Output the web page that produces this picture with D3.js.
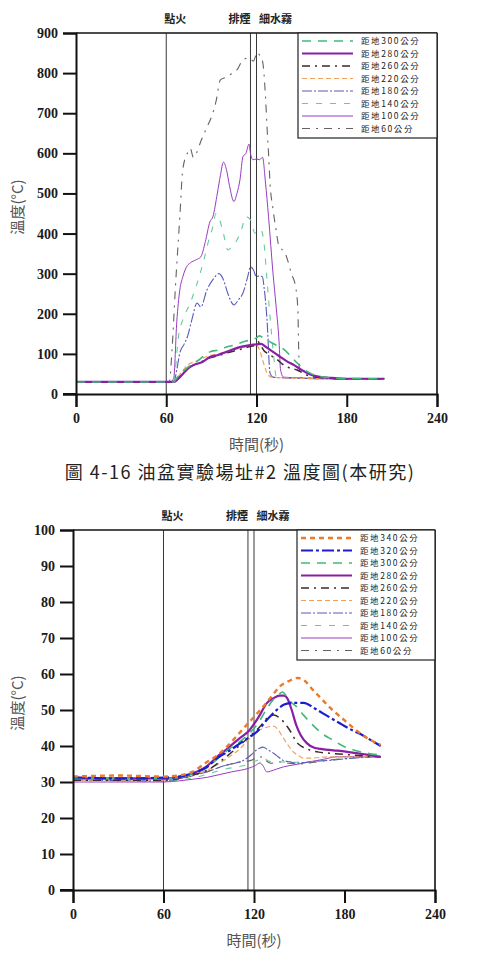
<!DOCTYPE html>
<html>
<head>
<meta charset="utf-8">
<script src="https://cdn.jsdelivr.net/npm/d3@7"></script>
<style>
  body { margin: 0; background: #fff; }
  svg { display: block; }
  .cjk { font-family: "Noto Sans CJK TC", "Noto Sans CJK SC", sans-serif; }
</style>
</head>
<body>
<div id="vis"></div>
<script>
// top chart: [time (s), temperature (°C)] per sensor height
const top300 = [[0,30],[65,30],[67,40],[70,52],[74,66],[80,80],[89,105],[95,110],[100,117],[105,122],[109,127],[113,132],[117,135],[120,140],[122,145],[125,138],[129,130],[133,122],[138,112],[145,85],[152,60],[158,48],[165,42],[175,39],[205,38]];
const top280 = [[0,30],[65,30],[68,38],[71,50],[74,62],[78,72],[84,80],[89,92],[95,98],[100,105],[105,112],[109,117],[113,120],[116,122],[120,124],[123,125],[126,118],[129,110],[133,100],[136,92],[140,82],[145,72],[150,60],[154,52],[158,46],[163,42],[170,40],[180,38],[205,38]];
const top260 = [[0,30],[65,30],[68,38],[72,55],[76,68],[82,78],[89,90],[95,96],[100,102],[106,108],[110,112],[115,118],[119,122],[121,130],[123,120],[125,108],[127,102],[130,95],[134,85],[137,75],[140,68],[144,63],[147,60],[151,52],[155,45],[160,42],[165,40],[180,38],[205,38]];
const top220 = [[0,30],[64,30],[67,40],[71,58],[74,72],[80,82],[89,96],[95,100],[100,106],[106,112],[112,117],[116,120],[120,122],[122,110],[124,85],[126,62],[127,52],[130,42],[140,40],[170,38],[205,38]];
const top180 = [[0,30],[65,30],[67,60],[69,102],[72,125],[74,142],[77,185],[80.5,227],[83,217],[87,259],[91,285],[95,300],[98,285],[101,250],[105,222],[108,235],[111,252],[114,290],[116,317],[118,309],[120,292],[122,295],[124,292],[125,267],[127,185],[129,52],[131,42],[140,40],[170,38],[205,38]];
const top140 = [[0,30],[64,30],[66,60],[68,140],[71,185],[76,227],[80,270],[85,334],[88,380],[91,417],[93,450],[95,440],[98,400],[101,359],[104,370],[107,384],[110,410],[113,442],[116,434],[119,401],[121,410],[123,409],[125,376],[127,284],[129,192],[131.5,92],[133,45],[140,40],[170,38],[205,38]];
const top100 = [[0,30],[63,30],[65,40],[67,180],[69,259],[71,292],[74,320],[76,327],[80,335],[83,342],[86,380],[89,429],[91,442],[94,501],[96,545],[98,578],[100,560],[102,520],[105,480],[107,500],[109,534],[111,592],[113,600],[115,623],[116,600],[117.5,584],[120,586],[122,584],[124,590],[126,526],[128,442],[131,300],[133,220],[135,130],[136,60],[138,42],[150,40],[170,38],[205,38]];
const top60 = [[0,30],[62,30],[64,120],[66,260],[69,440],[71,560],[74,600],[76,612],[78,590],[80,600],[83,630],[87,665],[90,690],[93,728],[96,783],[100,790],[104,800],[107,808],[111,833],[115,838],[118,830],[120.5,852],[122,845],[124,830],[126,740],[127,665],[128,600],[129,526],[131,460],[133,409],[135,367],[137,360],[139,351],[141,330],[143,302],[146,267],[147.5,210],[148,120],[149,42],[155,40],[170,38],[205,38]];

// bottom chart
const bot340 = [[0,31.5],[30,31.8],[60,31.5],[70,31.8],[79,32.8],[89,35.6],[96,37.5],[102,39.8],[108,42.5],[115,45.8],[122,49],[128,51.9],[133,54.5],[137,56.5],[143,58],[149,58.9],[154,58],[159,55.6],[165,53],[172,50],[179,47.5],[186,45],[192,43],[197,41.7],[204,40.3]];
const bot320 = [[0,31.3],[30,31],[60,31.2],[70,31.5],[80,32.5],[89,34.2],[95.5,36.6],[103,38.5],[111,40.8],[117,42.5],[122,44],[128,47],[135,50],[140,51.5],[144,51.9],[150,52],[153,52],[160,50.5],[166,49],[172,47.5],[179,45.8],[186,44.2],[192,43],[198,41.5],[204,40]];
const bot300 = [[0,31],[60,31],[70,31.2],[80,32.5],[89,34],[96,36.5],[103,39],[110,41],[117,43.5],[123,46.5],[128,50],[133,53],[137,54.5],[139,55],[142,53.5],[145,52],[148,51],[153,48.5],[159,45.8],[165,43.5],[172,41.7],[179,40],[186,38.9],[195,38],[204,37.5]];
const bot280 = [[0,31],[60,31],[70,31.3],[80,32.5],[89,34.5],[95.5,37],[103,39.5],[110,42],[117,44.4],[123,48],[128.5,51.9],[133,53.3],[137,54],[140,54],[142,53.3],[145,50],[148,45.8],[151,43],[155,40.8],[160,39.5],[164,39.2],[170,38.9],[175,38.7],[188,38],[204,37]];
const bot260 = [[0,30.5],[60,30.5],[70,31],[80,32],[90,33.5],[100,36.5],[110,40],[118,43],[124,45.4],[128,47.5],[133,48.6],[137,47.8],[142,45.4],[145,43.5],[148,41.2],[152,39.8],[157,38.9],[163,38.3],[170,38],[185,37.5],[204,37]];
const bot220 = [[0,30.5],[60,30.5],[70,31],[80,32],[90,33.5],[100,36],[110,39],[117,42],[122,44],[127,45],[133,45.5],[136,44.5],[139,42.5],[143,40],[146,38.4],[150,37.2],[153,36.6],[160,36.7],[170,37],[185,37],[204,37]];
const bot180 = [[0,30.5],[60,30.3],[70,30.8],[80,31.8],[90,33],[100,34.5],[108,35.3],[113,36],[118,37.5],[122,39],[126,39.7],[129,39],[133,38],[136,37],[139.5,36],[144,35.6],[148,35.2],[155,35.5],[162,35.8],[170,36],[185,36.6],[204,37]];
const bot140 = [[0,30.2],[60,30.2],[70,30.5],[80,31.2],[90,32.3],[100,33.5],[110,34.3],[117,35],[122,36],[126,36.6],[129,36],[131,35.6],[136,35.6],[142,35.5],[148,35.5],[160,35.8],[175,36.3],[190,36.8],[204,37]];
const bot100 = [[0,30],[60,30],[70,30.3],[80,30.8],[89,31.3],[95.5,31.9],[105,32.8],[117,33.9],[121,34.6],[124,35.3],[126,34.5],[128.5,32.8],[131,33],[135,33.6],[139.5,34.2],[147,34.8],[157,35.6],[166,36.3],[175,37],[190,37],[204,37]];
const bot60 = [[0,30.8],[60,30.7],[70,31],[80,31.8],[90,33],[100,34.5],[110,35.5],[118,36],[122,36.8],[126,37],[128,36],[131,35.2],[134,35.4],[137,35.6],[143,35.2],[150,35],[160,35.5],[172,36.2],[188,36.8],[204,37]];

const xTicks = [0, 60, 120, 180, 240];
const topYTicks = [0, 100, 200, 300, 400, 500, 600, 700, 800, 900];
const botYTicks = [0, 10, 20, 30, 40, 50, 60, 70, 80, 90, 100];

// event markers (s)
const events = [
  { t: 60, label: "點火", dx: 9 },
  { t: 116, label: "排煙", dx: -11 },
  { t: 120, label: "細水霧", dx: 19 }
];

// line styles per sensor height
const STYLE = {
  340: { color: "#ec7a2a", width: 2.4, dash: "5,4" },
  320: { color: "#1c1cd0", width: 2.2, dash: "12,3,3,3" },
  300: { color: "#3fba7c", width: 1.6, dash: "9,7" },
  280: { color: "#8a1fa6", width: 2.2, dash: null },
  260: { color: "#3e2a2a", width: 1.5, dash: "8,5,2,5" },
  220: { color: "#f2a060", width: 1.2, dash: "5,3" },
  180: { color: "#5a5ab8", width: 1.1, dash: "10,2,2,2" },
  140: { color: "#66cc99", width: 1.1, dash: "6,8" },
  100: { color: "#9a3cc0", width: 1.0, dash: null },
  60:  { color: "#6a6060", width: 1.1, dash: "8,6,2,6" }
};

const topSeries = [
  { h: 300, data: top300 }, { h: 280, data: top280 }, { h: 260, data: top260 },
  { h: 220, data: top220 }, { h: 180, data: top180 }, { h: 140, data: top140 },
  { h: 100, data: top100 }, { h: 60, data: top60 }
];
const botSeries = [
  { h: 340, data: bot340 }, { h: 320, data: bot320 }, { h: 300, data: bot300 },
  { h: 280, data: bot280 }, { h: 260, data: bot260 }, { h: 220, data: bot220 },
  { h: 180, data: bot180 }, { h: 140, data: bot140 }, { h: 100, data: bot100 },
  { h: 60, data: bot60 }
];

const W = 481, H = 966;
const svg = d3.select("#vis").append("svg")
  .attr("width", W).attr("height", H);

function drawChart(cfg) {
  const x = d3.scaleLinear().domain([0, 240]).range([cfg.left, cfg.right]);
  const y = d3.scaleLinear().domain(cfg.yDomain).range([cfg.bottom, cfg.top]);
  const g = svg.append("g");

  // frame (top + right)
  g.append("line").attr("x1", cfg.left).attr("x2", cfg.right)
    .attr("y1", cfg.top).attr("y2", cfg.top)
    .attr("stroke", "#111").attr("stroke-width", 1.6);
  g.append("line").attr("x1", cfg.right).attr("x2", cfg.right)
    .attr("y1", cfg.top).attr("y2", cfg.bottom)
    .attr("stroke", "#111").attr("stroke-width", 1.6);

  // event lines
  g.selectAll(".event")
    .data(events)
    .join("line")
    .attr("x1", d => x(d.t)).attr("x2", d => x(d.t))
    .attr("y1", cfg.top).attr("y2", cfg.bottom)
    .attr("stroke", "#222").attr("stroke-width", 0.9);

  g.selectAll(".event-label")
    .data(events)
    .join("text")
    .attr("class", "cjk")
    .attr("x", d => x(d.t) + d.dx)
    .attr("y", cfg.top - 10)
    .attr("text-anchor", "middle")
    .style("font-size", "11px")
    .style("font-weight", "bold")
    .attr("fill", "#222")
    .text(d => d.label);

  // series
  const line = d3.line()
    .x(d => x(d[0]))
    .y(d => y(d[1]))
    .curve(d3.curveMonotoneX);

  g.append("g")
    .selectAll("path")
    .data(cfg.series.slice().reverse())
    .join("path")
    .attr("fill", "none")
    .attr("stroke", d => STYLE[d.h].color)
    .attr("stroke-width", d => STYLE[d.h].width)
    .attr("stroke-dasharray", d => STYLE[d.h].dash)
    .attr("d", d => line(d.data));

  // axes
  const yAxis = d3.axisLeft(y).tickValues(cfg.yTicks).tickSize(13).tickPadding(5);
  const gy = g.append("g")
    .attr("transform", `translate(${cfg.left},0)`)
    .call(yAxis);
  const xAxis = d3.axisBottom(x).tickValues(xTicks).tickSize(13).tickPadding(6);
  const gx = g.append("g")
    .attr("transform", `translate(0,${cfg.bottom})`)
    .call(xAxis);
  [gx, gy].forEach(a => {
    a.attr("font-family", null).attr("font-size", null);
    a.select(".domain").attr("stroke", "#111").attr("stroke-width", 2);
    a.selectAll(".tick line").attr("stroke", "#111").attr("stroke-width", 2);
    a.selectAll(".tick text")
      .style("font-family", "'Liberation Serif', 'DejaVu Serif', serif")
      .style("font-size", "14px")
      .style("font-weight", "bold")
      .attr("fill", "#1a1a1a");
  });
  // axis line continues left through the 0 tick
  g.append("line").attr("x1", cfg.left - 13).attr("x2", cfg.left)
    .attr("y1", cfg.bottom).attr("y2", cfg.bottom)
    .attr("stroke", "#111").attr("stroke-width", 2);

  // axis titles
  g.append("text")
    .attr("class", "cjk")
    .attr("x", (cfg.left + cfg.right) / 2)
    .attr("y", cfg.bottom + 56)
    .attr("text-anchor", "middle")
    .style("font-size", "15px")
    .attr("fill", "#555")
    .text("時間(秒)");
  g.append("text")
    .attr("class", "cjk")
    .attr("transform", `translate(23,${cfg.yTitle}) rotate(-90)`)
    .attr("text-anchor", "middle")
    .style("font-size", "15px")
    .attr("fill", "#555")
    .text("溫度(°C)");

  // legend
  const lx = cfg.legendX, lw = cfg.right - cfg.legendX;
  const rowH = 12.5;
  const legH = cfg.series.length * rowH + 5;
  const leg = g.append("g").attr("transform", `translate(${lx},${cfg.top})`);
  leg.append("rect")
    .attr("width", lw).attr("height", legH)
    .attr("fill", "#fff").attr("stroke", "#222").attr("stroke-width", 1.2);
  const rows = leg.selectAll(".row")
    .data(cfg.series)
    .join("g")
    .attr("transform", (d, i) => `translate(0,${8 + i * rowH})`);
  rows.append("line")
    .attr("x1", 4).attr("x2", 55)
    .attr("stroke", d => STYLE[d.h].color)
    .attr("stroke-width", d => STYLE[d.h].width)
    .attr("stroke-dasharray", d => STYLE[d.h].dash);
  rows.append("text")
    .attr("class", "cjk")
    .attr("x", 63).attr("y", 3)
    .style("font-size", "8.5px")
    .style("letter-spacing", "1.6px")
    .attr("fill", "#222")
    .text(d => `距地${d.h}公分`);
}

drawChart({
  left: 76, right: 437, top: 33, bottom: 394,
  yDomain: [0, 900], yTicks: topYTicks, yTitle: 207,
  legendX: 298, series: topSeries
});

drawChart({
  left: 73, right: 435, top: 530, bottom: 890,
  yDomain: [0, 100], yTicks: botYTicks, yTitle: 703,
  legendX: 297, series: botSeries
});

// caption between the charts
svg.append("text")
  .attr("class", "cjk")
  .attr("x", 240).attr("y", 479)
  .attr("text-anchor", "middle")
  .style("font-size", "18px")
  .style("letter-spacing", "1.5px")
  .attr("fill", "#222")
  .text("圖 4-16 油盆實驗場址#2 溫度圖(本研究)");
</script>
</body>
</html>
